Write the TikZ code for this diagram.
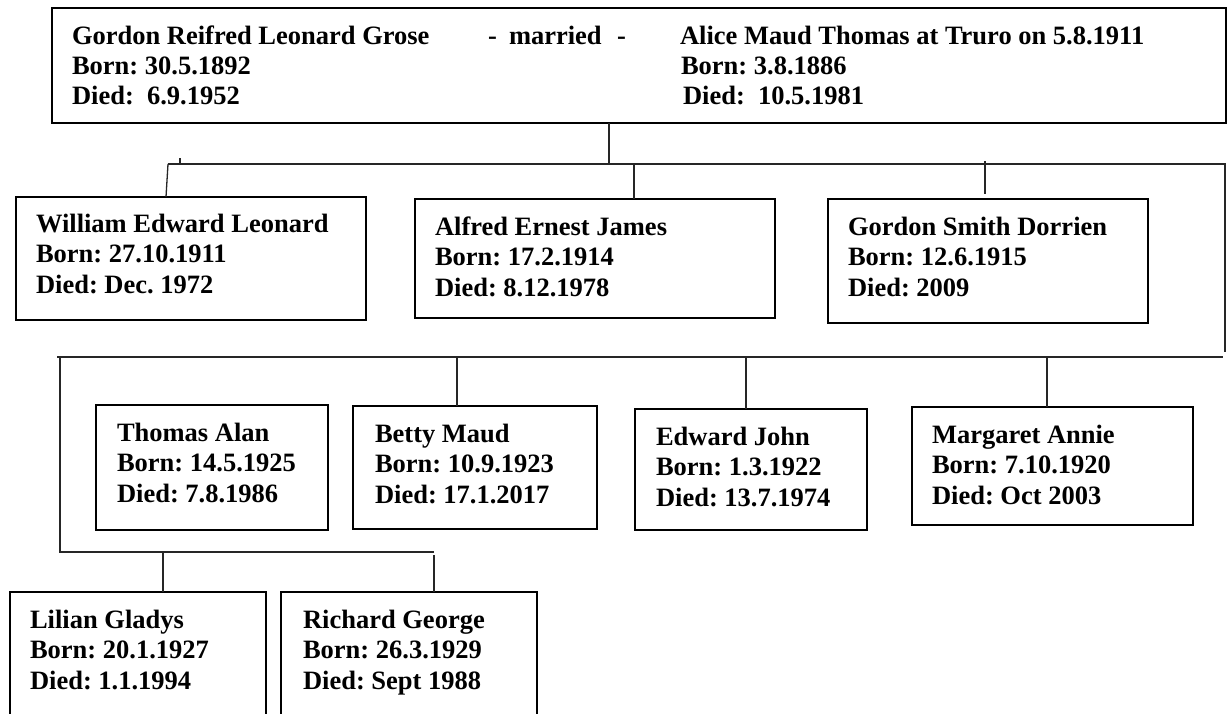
\documentclass[tikz,border=0pt]{standalone}
\usepackage{fontspec}
\setmainfont{Liberation Serif}
\frenchspacing
\tikzset{
  pbox/.style={draw, line width=1.8pt, inner sep=0pt, outer sep=0pt, anchor=north west},
  txt/.style={anchor=base west, inner sep=0pt, outer sep=0pt, font=\frenchspacing\bfseries\fontsize{26.5}{30}\selectfont},
  conn/.style={line width=1.3pt, black!85},
}
\newcommand\famb[5]{\node[pbox, minimum width=#4pt, minimum height=#5pt] (#1) at (#2,#3) {};}
\newcommand\famt[6]{%
  \node[txt] (#1-a) at (#2,#3) {#4};
  \node[txt] (#1-b) at (#2,#3+30.5) {#5};
  \node[txt] (#1-c) at (#2,#3+61) {#6};}
\begin{document}
\begin{tikzpicture}[x=1pt,y=-1pt]
\useasboundingbox (0,0) rectangle (1228,713);
\clip (0,0) rectangle (1228,713);
% top couple
\famb{top}{52}{8}{1174}{115}
\node[txt] (gordon) at (72,44) {Gordon Reifred Leonard Grose};
\node[txt] (dash1) at (488,44) {-};
\node[txt] (married) at (509,44) {married};
\node[txt] (dash2) at (617,44) {-};
\node[txt] (alice) at (680,44) {Alice Maud Thomas at Truro on 5.8.1911};
\node[txt] (gborn) at (72,74) {Born: 30.5.1892};
\node[txt] (gdied) at (72,104) {Died:\ \ 6.9.1952};
\node[txt] (aborn) at (681,74) {Born: 3.8.1886};
\node[txt] (adied) at (683,104) {Died:\ \ 10.5.1981};
% first row of children
\famb{will}{16}{197}{350}{123}
\famt{willt}{36}{232}{William Edward Leonard}{Born: 27.10.1911}{Died: Dec. 1972}
\famb{alf}{415}{199}{360}{119}
\famt{alft}{435}{235}{Alfred Ernest James}{Born: 17.2.1914}{Died: 8.12.1978}
\famb{gsd}{828}{199}{320}{124}
\famt{gsdt}{848}{235}{Gordon Smith Dorrien}{Born: 12.6.1915}{Died: 2009}
% second row
\famb{tho}{96}{405}{232}{125}
\famt{thot}{117}{441}{Thomas Alan}{Born: 14.5.1925}{Died: 7.8.1986}
\famb{bet}{353}{406}{244}{123}
\famt{bett}{375}{442}{Betty Maud}{Born: 10.9.1923}{Died: 17.1.2017}
\famb{edw}{635}{409}{232}{121}
\famt{edwt}{656}{445}{Edward John}{Born: 1.3.1922}{Died: 13.7.1974}
\famb{mar}{912}{407}{281}{118}
\famt{mart}{932}{443}{Margaret Annie}{Born: 7.10.1920}{Died: Oct 2003}
% third row
\famb{lil}{10}{592}{256}{140}
\famt{lilt}{30}{628}{Lilian Gladys}{Born: 20.1.1927}{Died: 1.1.1994}
\famb{ric}{281}{592}{256}{140}
\famt{rict}{303}{628}{Richard George}{Born: 26.3.1929}{Died: Sept 1988}
% connector coordinates
\coordinate (tc) at (609,163);
\coordinate (j0) at (168,164);
\coordinate (jR) at (1225,164);
\coordinate (kR) at (1225,352);
\coordinate (tk0) at (180,158);
\coordinate (tk1) at (180,164);
\coordinate (wj) at (166,0);
\coordinate (aj) at (634,164);
\coordinate (gj) at (985,161);
\coordinate (gje) at (985,194);
\coordinate (k0) at (57,357);
\coordinate (kE) at (1223,357);
\coordinate (l0) at (60,357);
\coordinate (l1) at (60,552);
\coordinate (l2) at (434,552);
\coordinate (bj) at (457,357);
\coordinate (ej) at (746,357);
\coordinate (mj) at (1047,357);
\coordinate (lj) at (163,552);
\coordinate (rj) at (434,555);
% connectors
\draw[conn] (tc |- top.south) -- (tc);
\draw[conn] (j0) -- (jR) -- (kR);
\draw[conn] (tk0) -- (tk1);
\draw[conn] (j0) -- (wj |- will.north);
\draw[conn] (aj) -- (aj |- alf.north);
\draw[conn] (gj) -- (gje);
\draw[conn] (k0) -- (kE);
\draw[conn] (l0) -- (l1) -- (l2);
\draw[conn] (bj) -- (bj |- bet.north);
\draw[conn] (ej) -- (ej |- edw.north);
\draw[conn] (mj) -- (mj |- mar.north);
\draw[conn] (lj) -- (lj |- lil.north);
\draw[conn] (rj) -- (rj |- ric.north);
\end{tikzpicture}
\end{document}
